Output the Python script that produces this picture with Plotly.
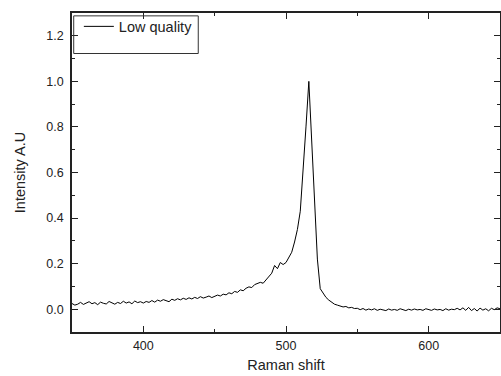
import plotly.graph_objects as go

raman_shift = list(range(350, 651, 2))

intensity = [
    # 350-398
    0.025, 0.018, 0.022, 0.030, 0.021, 0.027, 0.033, 0.024, 0.029, 0.020,
    0.031, 0.026, 0.023, 0.034, 0.028, 0.022, 0.030, 0.025, 0.035, 0.027,
    0.032, 0.024, 0.036, 0.029, 0.033,
    # 400-448
    0.027, 0.034, 0.030, 0.038, 0.031, 0.040, 0.035, 0.042, 0.037, 0.033,
    0.044, 0.039, 0.046, 0.041, 0.048, 0.043, 0.050, 0.045, 0.052, 0.047,
    0.055, 0.049, 0.053, 0.058, 0.051,
    # 450-498
    0.056, 0.062, 0.058, 0.066, 0.063, 0.072, 0.068, 0.078, 0.074, 0.085,
    0.081, 0.092, 0.098, 0.095, 0.108, 0.112, 0.118, 0.114, 0.128, 0.140,
    0.158, 0.192, 0.178, 0.205, 0.196,
    # 500-548
    0.205, 0.225, 0.250, 0.295, 0.350, 0.430, 0.600, 0.800, 1.000, 0.740,
    0.440, 0.220, 0.090, 0.068, 0.052, 0.040, 0.032, 0.022, 0.018, 0.014,
    0.010, 0.012, 0.006, 0.008, 0.003,
    # 550-598
    0.004, -0.002, 0.003, -0.004, 0.001, -0.003, 0.002, -0.005, 0.000, -0.002,
    -0.006, 0.001, -0.004, -0.001, -0.005, 0.002, -0.003, -0.006, 0.000, -0.004,
    0.001, -0.003, -0.001, -0.005, 0.002,
    # 600-650
    -0.002, -0.005, 0.001, -0.003, -0.001, -0.006, 0.002, -0.004, 0.000, -0.002,
    0.004, -0.003, 0.006, -0.005, 0.008, -0.006, 0.003, -0.008, 0.005, -0.004,
    0.002, -0.007, 0.004, -0.002, 0.006, 0.002,
]

series_name = "Low quality"
x_ticks = [400, 500, 600]
y_ticks = [0.0, 0.2, 0.4, 0.6, 0.8, 1.0, 1.2]

FONT = "Liberation Sans, Arial, sans-serif"

fig = go.Figure()
fig.add_trace(go.Scatter(
    x=raman_shift, y=intensity, mode="lines", name=series_name,
    line=dict(color="black", width=1),
))

axis_common = dict(
    showline=True, linecolor="#222", linewidth=1.5, mirror="ticks",
    ticks="inside", ticklen=6, tickwidth=1.2, tickcolor="#222",
    showgrid=False, zeroline=False, automargin=False,
    tickfont=dict(family=FONT, size=12.5, color="#222"),
)

fig.update_layout(
    width=501, height=376,
    margin=dict(l=72, r=1, t=13, b=44, autoexpand=False),
    paper_bgcolor="white", plot_bgcolor="white",
    font=dict(family=FONT, color="#222"),
    xaxis=dict(
        range=[350, 650], tickvals=x_ticks,
        minor=dict(dtick=50, tick0=350, ticks="inside", ticklen=3, tickcolor="#222"),
        title=dict(text="Raman shift", font=dict(family=FONT, size=14.5), standoff=8),
        ticklabelstandoff=1,
        **axis_common,
    ),
    yaxis=dict(
        range=[-0.1, 1.3], tickvals=y_ticks, tickformat=".1f",
        minor=dict(dtick=0.1, tick0=0, ticks="inside", ticklen=3, tickcolor="#222"),
        title=dict(text="Intensity A.U", font=dict(family=FONT, size=14.5), standoff=17),
        ticklabelstandoff=4,
        **axis_common,
    ),
    showlegend=True,
    legend=dict(
        x=0.016, y=1.008, xanchor="left", yanchor="top",
        bgcolor="rgba(0,0,0,0)", borderwidth=0,
        font=dict(family=FONT, size=14.5, color="#222"),
        itemwidth=30,
    ),
    shapes=[dict(
        type="rect", xref="paper", yref="paper",
        x0=0.004, x1=0.295, y0=0.873, y1=0.991,
        line=dict(color="#333", width=1), fillcolor="rgba(0,0,0,0)",
    )],
)

fig.write_html(
    "out.html",
    config={"displayModeBar": False},
    post_script="document.body.style.margin='0';document.body.style.overflow='hidden';",
)
